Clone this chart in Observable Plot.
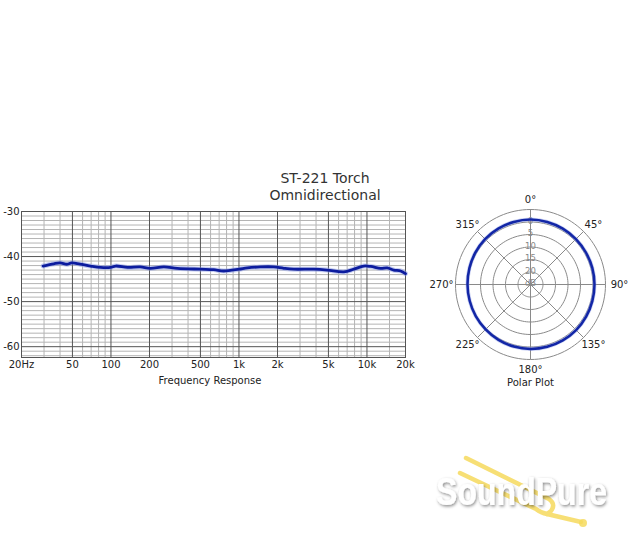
<!DOCTYPE html>
<html><head><meta charset="utf-8">
<script src="https://cdn.jsdelivr.net/npm/d3@7"></script>
<script src="https://cdn.jsdelivr.net/npm/@observablehq/plot@0.6"></script>
<style>
html,body{margin:0;padding:0;background:#fff;}
#page{position:relative;width:640px;height:560px;overflow:hidden;font-family:"DejaVu Sans",sans-serif;color:#222;background:#fff;}
.abs{position:absolute;}
</style></head><body><div id="page">
<div class="abs" style="left:200px;width:250px;top:170px;text-align:center;font-size:14px;line-height:17px;color:#333">ST-221 Torch<br>Omnidirectional</div>
<div class="abs" id="freq" style="left:0;top:200px"></div>
<div class="abs" style="left:0;width:420px;top:375px;text-align:center;font-size:10px;line-height:12px;color:#222">Frequency Response</div>
<div class="abs" id="polar" style="left:420px;top:180px"></div>
<svg class="abs" style="left:0;top:0;pointer-events:none" width="640" height="560">
  <defs><filter id="sh" x="-10%" y="-30%" width="120%" height="160%"><feDropShadow dx="1" dy="1.5" stdDeviation="1.5" flood-color="#000" flood-opacity="0.45"/></filter></defs>
  <g stroke="#f6da5e" stroke-width="4.5" stroke-linecap="round" fill="none" opacity="0.85">
    <path d="M466 458 L549 499 Q556 504 551 511 L547 514"/>
    <path d="M460 473 L536 509 Q541 513 547 514 L581 522"/>
  </g>
  <circle cx="583" cy="523" r="4" fill="#f6da5e" opacity="0.85"/>
  <text x="436" y="505" font-family="Liberation Sans, Arial, sans-serif" font-weight="bold" font-size="38" fill="#fff" textLength="171" lengthAdjust="spacingAndGlyphs" filter="url(#sh)">SoundPure</text>
</svg>
</div>
<script>
// Frequency response (Hz, dB)
const freqHz = [29.5, 35.7, 40, 45.6, 49.4, 57.5, 69.2, 82.9, 99.2, 108.8, 135, 169, 203, 259, 330, 500, 635, 760, 1000, 1160, 1470, 1870, 2240, 2680, 3850, 4890, 6600, 7900, 9450, 10700, 12800, 14400, 16200, 18300, 20000];
const responseDb = [-42.1, -41.6, -41.4, -41.7, -41.4, -41.7, -42.1, -42.4, -42.4, -42.1, -42.4, -42.3, -42.6, -42.3, -42.6, -42.8, -42.9, -43.2, -42.8, -42.5, -42.3, -42.3, -42.6, -42.8, -42.8, -43.0, -43.4, -42.8, -42.1, -42.2, -42.6, -42.5, -43.0, -43.2, -43.8];
const xTicks = [20, 50, 100, 200, 500, 1000, 2000, 5000, 10000, 20000];
const xTickLabels = ["20Hz", "50", "100", "200", "500", "1k", "2k", "5k", "10k", "20k"];
const yTicks = [-30, -40, -50, -60];
const majorFreqs = [50, 100, 200, 500, 1000, 2000, 5000, 10000];
const minorFreqs = [30, 40, 60, 70, 80, 90, 300, 400, 600, 700, 800, 900, 3000, 4000, 6000, 7000, 8000, 9000, 15000];

// Polar pattern (degrees, dB relative to the 0 ring)
const polarAngles = [0, 15, 30, 45, 60, 75, 90, 105, 120, 135, 150, 165, 180, 195, 210, 225, 240, 255, 270, 285, 300, 315, 330, 345];
const polarLevels = [1.0, 0.9, 0.8, 0.7, 0.6, 0.6, 0.6, 0.6, 0.7, 0.8, 0.8, 0.8, 0.8, 0.7, 0.6, 0.4, 0.3, 0.2, 0.2, 0.3, 0.5, 0.7, 0.8, 0.9];
const ringLevels = [5, 0, -5, -10, -15, -20];
const ringLabelLevels = [0, -5, -10, -15, -20, -25];
const ringLabels = ["0", "5", "10", "15", "20", "dB"];
const spokeAngles = [0, 45, 90, 135, 180, 225, 270, 315];
const angleLabels = ["0°", "45°", "90°", "135°", "180°", "225°", "270°", "315°"];

const baseStyle = {fontFamily: "DejaVu Sans", fontSize: "10px", color: "#222", background: "transparent", overflow: "visible"};
const minorDb = d3.range(-62, -30).filter(d => d % 10 !== 0);
const freqData = freqHz.map((f, i) => ({f, db: responseDb[i]}));
const xTickData = xTicks.map((t, i) => ({t, label: xTickLabels[i]}));

const freqPlot = Plot.plot({
  width: 420, height: 195,
  marginLeft: 21, marginRight: 15, marginTop: 11, marginBottom: 38,
  style: baseStyle,
  x: {type: "log", domain: [20, 20000], axis: null},
  y: {domain: [-62.4, -30], axis: null},
  marks: [
    Plot.ruleY(minorDb, {stroke: "#b4b4b4"}),
    Plot.ruleX(minorFreqs, {stroke: "#b4b4b4"}),
    Plot.ruleY(yTicks, {stroke: "#555"}),
    Plot.ruleX(majorFreqs, {stroke: "#555"}),
    Plot.frame({stroke: "#555"}),
    Plot.line(freqData, {x: "f", y: "db", stroke: "#8c9be6", strokeWidth: 5, strokeOpacity: 0.5, curve: "catmull-rom"}),
    Plot.line(freqData, {x: "f", y: "db", stroke: "#0c1c9e", strokeWidth: 2.8, curve: "catmull-rom"}),
    Plot.text(xTickData, {x: "t", text: "label", frameAnchor: "bottom", dy: 10, fill: "#222"}),
    Plot.text(yTicks, {y: d => d, text: d => String(d), frameAnchor: "left", textAnchor: "end", dx: -2, fill: "#222"})
  ]
});
document.getElementById("freq").appendChild(freqPlot);

// Polar: radius in dB units with center at -25 dB
const rad = lvl => lvl + 25;
const toXY = (deg, r) => ({x: r * Math.sin(deg * Math.PI / 180), y: r * Math.cos(deg * Math.PI / 180)});
const ringPts = ringLevels.flatMap(l => d3.range(0, 361, 3).map(a => ({ring: l, ...toXY(a, rad(l))})));
const spokes = spokeAngles.map(a => toXY(a, rad(ringLevels[0])));
const polarData = polarAngles.map((a, i) => toXY(a, rad(polarLevels[i])));
const ringLabelData = ringLabelLevels.map((l, i) => ({x: 0, y: rad(l) + 0.4, label: ringLabels[i]}));
const angleLabelData = spokeAngles.map((a, i) => ({x: 35.6 * Math.sin(a * Math.PI / 180), y: 34 * Math.cos(a * Math.PI / 180), label: angleLabels[i]}));

const polarPlot = Plot.plot({
  width: 220, height: 210, margin: 0,
  style: baseStyle,
  x: {domain: [-44, 44], axis: null},
  y: {domain: [-42.4, 41.6], axis: null},
  marks: [
    Plot.line(ringPts, {x: "x", y: "y", z: "ring", stroke: "#8a8a8a", strokeWidth: 1}),
    Plot.link(spokes, {x1: () => 0, y1: () => 0, x2: "x", y2: "y", stroke: "#8a8a8a", strokeWidth: 1}),
    Plot.text(ringLabelData, {x: "x", y: "y", text: "label", fill: "#888", fontSize: 8.5}),
    Plot.line(polarData, {x: "x", y: "y", stroke: "#8c9be6", strokeWidth: 4, strokeOpacity: 0.45, curve: "catmull-rom-closed"}),
    Plot.line(polarData, {x: "x", y: "y", stroke: "#1226a6", strokeWidth: 2.5, curve: "catmull-rom-closed"}),
    Plot.text(angleLabelData, {x: "x", y: "y", text: "label", fill: "#222", fontSize: 10}),
    Plot.text(["Polar Plot"], {x: () => 0, y: () => -39.2, text: d => d, fill: "#222", fontSize: 10})
  ]
});
document.getElementById("polar").appendChild(polarPlot);
</script>
</body></html>
